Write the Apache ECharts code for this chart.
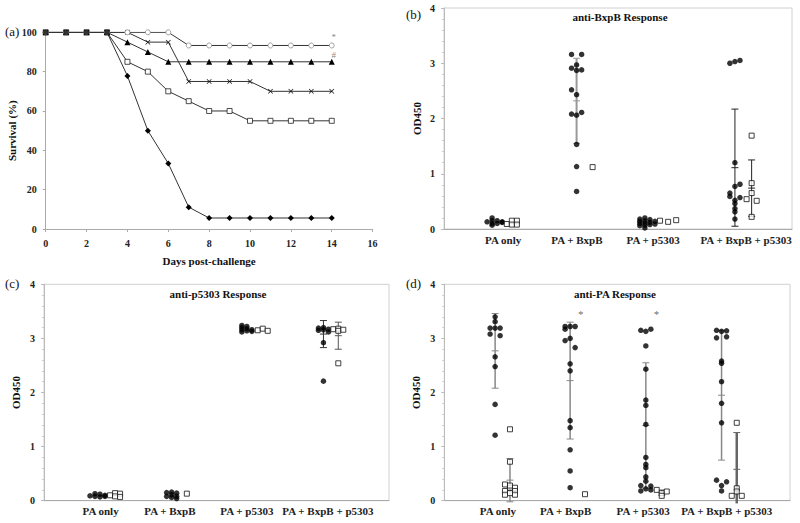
<!DOCTYPE html>
<html><head><meta charset="utf-8">
<script src="https://cdn.jsdelivr.net/npm/echarts@6/dist/echarts.min.js"></script>
<style>html,body{margin:0;padding:0;background:#fff}#c{width:800px;height:523px}</style>
</head><body><div id="c"></div>
<script>
// ---------- Panel (a): survival ----------
const days = [0,1,2,3,4,5,6,7,8,9,10,11,12,13,14];
const survCircle   = [100,100,100,100,100,100,100,93.3,93.3,93.3,93.3,93.3,93.3,93.3,93.3];
const survTriangle = [100,100,100,100,95,90,85,85,85,85,85,85,85,85,85];
const survCross    = [100,100,100,100,100,95,95,75,75,75,75,70,70,70,70];
const survSquare   = [100,100,100,100,85,80,70,65,60,60,55,55,55,55,55];
const survDiamond  = [100,100,100,100,77.8,50,33.3,11.1,5.6,5.6,5.6,5.6,5.6,5.6,5.6];
const sharedDays = [0,1,2,3];
const sigMarks = [['*', 14.1, 97.8], ['#', 14.1, 88.5]];

// ---------- Panels (b)-(d): OD450 ----------
const groupNames = ['PA only', 'PA + BxpB', 'PA + p5303', 'PA + BxpB + p5303'];

// (b) anti-BxpB
const bCirc = [
  [0.13, 0.20,0.15,0.10,0.07, 0.15,0.10, 0.13,0.12],
  [3.16,3.16,2.97,2.91,2.87,2.88,2.52,2.43,2.08,2.06,2.11,1.53,1.13,0.68],
  [0.18,0.14,0.10,0.06, 0.20,0.15,0.11,0.07,0.02, 0.17,0.12,0.08, 0.14,0.09],
  [3.00,3.03,3.05,1.20,0.81,0.77,0.65,0.59,0.57,0.52,0.46,0.37,0.31,0.18]
];
const bSq = [
  [0.09,0.15,0.08,0.15,0.08],
  [1.12],
  [0.15,0.13,0.16],
  [1.69,0.83,0.65,0.22,0.54,0.51]
];
const bMean = [2.32, 1.11, 0.74];
const bSD   = [0.77, 1.06, 0.51];

// (c) anti-p5303
const cCirc = [
  [0.09, 0.13,0.08, 0.12,0.07, 0.10,0.08],
  [0.15,0.08, 0.16,0.11,0.06, 0.14,0.08,0.04],
  [3.24,3.20,3.16,3.12, 3.22,3.18,3.14, 3.16,3.13],
  [3.19,3.15, 3.20,3.16,2.92,2.21, 3.17,3.12]
];
const cSq = [
  [0.10, 0.14,0.08, 0.13,0.07],
  [0.13],
  [3.15,3.18,3.14],
  [3.17, 3.18,3.14,2.54, 3.16]
];
const cMean = [3.08, 3.05];
const cSD   = [0.25, 0.25];

// (d) anti-PA
const dCirc = [
  [3.40,3.31,3.19,3.19,3.19,3.08,3.05,2.66,2.48,1.78,1.21],
  [3.22,3.22,3.22,3.17,3.00,2.96,2.83,2.53,2.40,1.48,1.35,0.94,0.55,0.24],
  [3.15,3.13,3.17,2.86,2.43,1.86,1.76,1.41,0.80,0.67,0.61,0.44,0.36,0.28,0.27,0.18,0.20,0.22],
  [3.15,3.13,3.14,3.01,3.03,2.58,2.54,2.20,1.80,1.44,0.38,0.35,0.28,0.18]
];
const dSq = [
  [1.32,0.72,0.30,0.24,0.28,0.24,0.18,0.18,0.14,0.11,0.11],
  [0.12],
  [0.20,0.14,0.09,0.17],
  [1.44,0.23,0.17,0.09,0.09]
];
const dMean = [2.77, 0.38, 2.22, 1.39, 0.15, 1.95, 0.58];
const dSD   = [0.69, 0.40, 1.08, 1.16, 0.05, 1.20, 0.68];
const dStar = 3.45;

// ---------- layout (x positions in % of plot width, jitter columns) ----------
const STEP = 1.45;
const L = {
  b: { lab:[17.0,38.2,60.1,86.8], cC:[14.55,38.1,58.45,83.6], sC:[19.5,42.7,64.4,88.4],
       cCol:[[-1.5,-0.5,-0.5,-0.5,-0.5,0.5,0.5,1.5,1.5],[-1,1,0,-1,0,1,-1,0,-1,0,1,0,0,0],
             [-1.5,-1.5,-1.5,-1.5,-0.5,-0.5,-0.5,-0.5,-0.5,0.5,0.5,0.5,1.5,1.5],[-1,0,1,0,1,0,-1,-1,1,0,0,0,0,0]],
       sCol:[[-1,0,0,1,1],[0],[-1.6,0,1.6],[0,0,0,0,-1,1]],
       eX:[38.1,83.6,88.4], eCol:['#999','#222','#222'], eW:[2,1,1] },
  c: { lab:[16.4,36.5,58.8,82.3], cC:[15.5,37.0,58.8,81.0], sC:[20.6,41.4,63.4,85.3],
       cCol:[[-1.5,-0.5,-0.5,0.5,0.5,1.5,1.5],[-1,-1,0,0,0,1,1,1],[-1,-1,-1,-1,0,0,0,1,1],[-1,-1,0,0,0,0,1,1]],
       sCol:[[-1,0,0,1,1],[0],[-1,0,1],[-1,0,0,0,1]],
       eX:[81.0,85.3], eCol:['#333','#555'], eW:[1,1] },
  d: { lab:[15.5,35.1,57.5,81.7], cC:[14.7,36.4,58.3,80.2], sC:[19.0,40.7,62.9,84.6],
       cCol:[[0,0,-1,0,1,-1,1,0,0,0,0],[-1,0,1,-1,0,-1,1,0,0,0,0,0,0,0],
             [-1,0,1,0,0,0,0,0,0,0,0,0,0,-1,1,-1,1,0],[-1,0,1,-1,1,0,0,0,0,0,-1,1,0,0]],
       sCol:[[0,0,-1,0,0,1,-1,1,0,-1,1],[0],[-1,0,0,1],[0,0,0,-1,1]],
       eX:[14.7,19.0,36.4,58.3,62.9,80.2,84.6], eCol:['#888','#888','#888','#888','#888','#888','#666'], eW:[1.5,1.5,1.5,1.5,1.5,1.5,2.5],
       starX:[39.5,61.4] }
};

const FONT = 'Liberation Serif';
const series = [];

// panel (a) series
const lineBase = {type:'line', xAxisIndex:0, yAxisIndex:0, symbolSize:5, lineStyle:{color:'#333', width:1}, silent:true, animation:false};
const xPath = 'path://M0,1L1,0L5,4L9,0L10,1L6,5L10,9L9,10L5,6L1,10L0,9L4,5Z';
series.push(Object.assign({}, lineBase, {data: days.map((d,i)=>[d, survDiamond[i]]), symbol:'diamond', symbolSize:6, itemStyle:{color:'#000', borderWidth:0}}));
series.push(Object.assign({}, lineBase, {data: days.map((d,i)=>[d, survSquare[i]]), symbol:'rect', symbolSize:5, itemStyle:{color:'#fff', borderColor:'#222', borderWidth:0.8}}));
series.push(Object.assign({}, lineBase, {data: days.map((d,i)=>[d, survCross[i]]), symbol:xPath, symbolSize:5, itemStyle:{color:'#111', borderWidth:0}}));
series.push(Object.assign({}, lineBase, {data: days.map((d,i)=>[d, survTriangle[i]]), symbol:'triangle', symbolSize:6, itemStyle:{color:'#000', borderWidth:0}}));
series.push(Object.assign({}, lineBase, {data: days.map((d,i)=>[d, survCircle[i]]), symbol:'circle', symbolSize:5, itemStyle:{color:'#fff', borderColor:'#888', borderWidth:0.8}}));
series.push({type:'scatter', xAxisIndex:0, yAxisIndex:0, symbol:'rect', symbolSize:5, itemStyle:{color:'#000'}, z:5, silent:true,
  data: sharedDays.map(d=>[d, survDiamond[days.indexOf(d)]])});
series.push({type:'scatter', xAxisIndex:0, yAxisIndex:0, symbolSize:1, itemStyle:{color:'rgba(0,0,0,0)'}, silent:true, z:6,
  data: sigMarks.map(m=>({value:[m[1], m[2]], label:{show:true, formatter:m[0], position:'inside', color:'#666', fontSize:9, fontFamily:FONT}}))});

function dotSeries(g, center, vals, cols, isCircle) {
  return {type:'scatter', xAxisIndex:g, yAxisIndex:g, silent:true, z:4,
    symbol: isCircle ? 'circle' : 'rect', symbolSize: isCircle ? 5.5 : 5,
    itemStyle: isCircle ? {color:'#000'} : {color:'#fff', borderColor:'#111', borderWidth:1},
    data: vals.map((v,i)=>[center + cols[i]*STEP, v])};
}
function errSeries(g, xs, means, sds, colors, widths) {
  return {type:'custom', xAxisIndex:g, yAxisIndex:g, z:3, silent:true,
    data: xs.map((x,i)=>[x, means[i], sds[i], i]),
    renderItem: function(p, api) {
      const x = api.value(0), m = api.value(1), s = api.value(2), i = api.value(3);
      const loV = m - s;
      const lo = Math.max(loV, -0.05);
      const t = api.coord([x, m+s]), b = api.coord([x, lo]), c = api.coord([x, m]);
      const st = {stroke: colors[i], lineWidth: widths[i], fill:null};
      const w = 3.5;
      const ch = [
        {type:'line', shape:{x1:t[0], y1:t[1], x2:b[0], y2:b[1]}, style:st},
        {type:'line', shape:{x1:t[0]-w, y1:t[1], x2:t[0]+w, y2:t[1]}, style:{stroke:colors[i], lineWidth:1}},
        {type:'line', shape:{x1:c[0]-w, y1:c[1], x2:c[0]+w, y2:c[1]}, style:{stroke:colors[i], lineWidth:1}}
      ];
      if (loV > -0.05) ch.push({type:'line', shape:{x1:b[0]-w, y1:b[1], x2:b[0]+w, y2:b[1]}, style:{stroke:colors[i], lineWidth:1}});
      return {type:'group', children: ch};
    }};
}
function addPanel(g, key, circ, sq, means, sds) {
  const P = L[key];
  series.push(errSeries(g, P.eX, means, sds, P.eCol, P.eW));
  for (let k = 0; k < 4; k++) {
    series.push(dotSeries(g, P.cC[k], circ[k], P.cCol[k], true));
    series.push(dotSeries(g, P.sC[k], sq[k], P.sCol[k], false));
  }
}
addPanel(1, 'b', bCirc, bSq, bMean, bSD);
addPanel(2, 'c', cCirc, cSq, cMean, cSD);
addPanel(3, 'd', dCirc, dSq, dMean, dSD);
series.push({type:'scatter', xAxisIndex:3, yAxisIndex:3, symbolSize:1, itemStyle:{color:'rgba(0,0,0,0)'}, silent:true, z:6,
  data: L.d.starX.map(x=>({value:[x, dStar], label:{show:true, formatter:'*', position:'inside', color:'#444', fontSize:11, fontFamily:FONT}}))});

const tickFont = {fontFamily:FONT, fontWeight:'bold', fontSize:10, color:'#222'};
function catAxis(g, key) {
  const pos = L[key].lab;
  return {gridIndex:g, type:'value', min:0, max:100,
    axisLine:{show:true, onZero:false, lineStyle:{color:'#aaa'}}, axisTick:{show:false}, splitLine:{show:false},
    axisLabel: Object.assign({}, tickFont, {fontSize:11, margin:5, customValues: pos,
      formatter: function(v){ let bi=0, bd=1e9; pos.forEach((p,i)=>{const d=Math.abs(p-v); if(d<bd){bd=d;bi=i;}}); return groupNames[bi]; }})};
}
function odAxis(g, gap) {
  return {gridIndex:g, type:'value', min:0, max:4, interval:1,
    name:'OD450', nameLocation:'middle', nameGap:gap, nameTextStyle:{fontFamily:FONT, fontWeight:'bold', fontSize:11, color:'#111'},
    axisLine:{show:true, lineStyle:{color:'#bbb'}}, axisTick:{show:true, length:3, lineStyle:{color:'#bbb'}},
    minorTick:{show:true, splitNumber:5, length:2, lineStyle:{color:'#ccc'}},
    splitLine:{show:false}, axisLabel: Object.assign({}, tickFont, {margin:9})};
}

const gridBorder = {show:true, borderColor:'#d0d0d0', borderWidth:1, backgroundColor:'#fff'};
const option = {
  animation:false,
  backgroundColor:'#fff',
  grid:[
    {left:45.7, top:32.3, width:326.9, height:196.7, show:false},
    Object.assign({left:444, top:8, width:348, height:221}, gridBorder),
    Object.assign({left:44, top:284.3, width:345, height:216.4}, gridBorder),
    Object.assign({left:444.3, top:284.3, width:345.7, height:216.4}, gridBorder)
  ],
  xAxis:[
    {gridIndex:0, type:'value', min:0, max:16, interval:2,
     name:'Days post-challenge', nameLocation:'middle', nameGap:26, nameTextStyle:{fontFamily:FONT, fontWeight:'bold', fontSize:11, color:'#111'},
     axisLine:{show:true, onZero:false, lineStyle:{color:'#aaa'}}, axisTick:{show:true, length:3, lineStyle:{color:'#aaa'}},
     splitLine:{show:false}, axisLabel:Object.assign({}, tickFont, {margin:9})},
    catAxis(1,'b'), catAxis(2,'c'), catAxis(3,'d')
  ],
  yAxis:[
    {gridIndex:0, type:'value', min:0, max:100, interval:20,
     name:'Survival (%)', nameLocation:'middle', nameGap:28, nameTextStyle:{fontFamily:FONT, fontWeight:'bold', fontSize:11, color:'#111'},
     axisLine:{show:true, lineStyle:{color:'#aaa'}}, axisTick:{show:true, length:3, lineStyle:{color:'#aaa'}},
     splitLine:{show:false}, axisLabel:Object.assign({}, tickFont, {margin:9})},
    odAxis(1, 22), odAxis(2, 23), odAxis(3, 23)
  ],
  graphic:[
    {type:'text', left:5, top:25, style:{text:'(a)', font:'13px "Liberation Serif"', fill:'#111'}},
    {type:'text', left:406, top:8, style:{text:'(b)', font:'13px "Liberation Serif"', fill:'#111'}},
    {type:'text', left:5, top:277, style:{text:'(c)', font:'13px "Liberation Serif"', fill:'#111'}},
    {type:'text', left:406, top:277, style:{text:'(d)', font:'13px "Liberation Serif"', fill:'#111'}},
    {type:'text', x:620, y:17, style:{text:'anti-BxpB Response', font:'bold 11px "Liberation Serif"', fill:'#111', textAlign:'center', textVerticalAlign:'middle'}},
    {type:'text', x:218, y:294, style:{text:'anti-p5303 Response', font:'bold 11px "Liberation Serif"', fill:'#111', textAlign:'center', textVerticalAlign:'middle'}},
    {type:'text', x:615, y:294, style:{text:'anti-PA Response', font:'bold 11px "Liberation Serif"', fill:'#111', textAlign:'center', textVerticalAlign:'middle'}}
  ],
  series: series
};
const chart = echarts.init(document.getElementById('c'), null, {renderer:'svg'});
chart.setOption(option);
</script>
</body></html>
